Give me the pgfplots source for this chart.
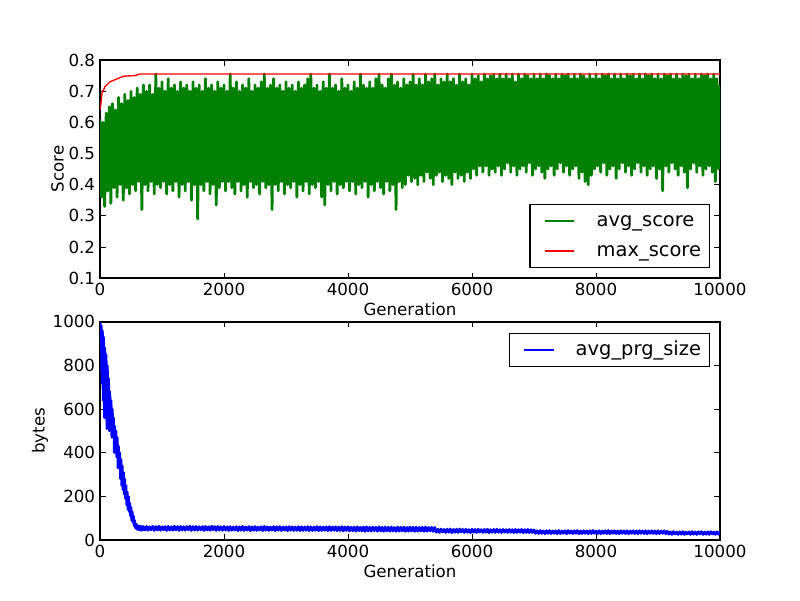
\documentclass[border=0pt]{standalone}
\usepackage{fontspec}
\setmainfont{DejaVu Sans}
\usepackage{pgfplots}
\pgfplotsset{compat=1.18}
\definecolor{mplgreen}{rgb}{0,0.5,0}
\pgfplotsset{
  mpl/.style={
    scale only axis, width=446.4pt, height=157.09pt,
    xmin=0, xmax=10000, xtick={0,2000,4000,6000,8000,10000},
    tick align=inside, major tick length=4pt, minor tick num=0,
    axis line style={line width=1pt},
    every tick/.style={black, line width=0.5pt},
    tick label style={font=\fontsize{12}{14}\selectfont},
    label style={font=\fontsize{12}{14}\selectfont},
    ylabel shift=-3.5pt, xlabel shift=-1.5pt,
    /pgf/number format/assume math mode=true,
    /pgf/number format/set thousands separator={},
    scaled ticks=false,
    legend cell align=left,
    legend image code/.code={\path (0pt,0pt) (40pt,0pt); \draw[##1, line width=1pt] (4pt,0pt) -- (25pt,0pt);},
    legend style={font=\fontsize{14}{17}\selectfont, draw=black, line width=1pt,
      inner xsep=6pt, inner ysep=5pt, column sep=0pt, row sep=8pt,
      nodes={inner sep=0pt, text height=10.5pt, text depth=3pt}},
  }
}
\begin{document}
\begin{tikzpicture}
\path[use as bounding box] (0pt,0pt) rectangle (576pt,432pt);
\begin{axis}[mpl, at={(72pt,231.71pt)}, anchor=south west,
  ymin=0.1, ymax=0.8, ytick={0.1,0.2,0.3,0.4,0.5,0.6,0.7,0.8},
  yticklabel style={/pgf/number format/.cd, fixed, fixed zerofill, precision=1},
  xlabel={Generation}, ylabel={Score},
  legend style={at={(0.9839,0.0467)}, anchor=south east}]
\addplot[mplgreen, line width=2pt, line join=round] coordinates {
(0,0.61)(25,0.36)(50,0.60)(75,0.33)(100,0.63)(125,0.38)(150,0.65)(175,0.34)
(200,0.66)(225,0.39)(250,0.64)(275,0.36)(300,0.68)(325,0.40)(350,0.66)(375,0.35)
(400,0.69)(425,0.39)(450,0.67)(475,0.37)(500,0.70)(525,0.40)(550,0.68)(575,0.38)
(600,0.71)(625,0.41)(650,0.69)(675,0.32)(700,0.72)(725,0.40)(750,0.70)(775,0.38)
(800,0.72)(825,0.41)(850,0.69)(875,0.37)(900,0.755)(925,0.40)(950,0.71)(975,0.39)
(1000,0.73)(1025,0.41)(1050,0.70)(1075,0.37)(1100,0.74)(1125,0.40)(1150,0.71)(1175,0.38)
(1200,0.72)(1225,0.41)(1250,0.70)(1275,0.36)(1300,0.73)(1325,0.40)(1350,0.71)(1375,0.38)
(1400,0.72)(1425,0.41)(1450,0.70)(1475,0.35)(1500,0.73)(1525,0.40)(1550,0.71)(1575,0.29)
(1600,0.72)(1625,0.40)(1650,0.70)(1675,0.38)(1700,0.74)(1725,0.41)(1750,0.71)(1775,0.37)
(1800,0.72)(1825,0.40)(1850,0.70)(1875,0.335)(1900,0.73)(1925,0.39)(1950,0.71)(1975,0.41)
(2000,0.72)(2025,0.38)(2050,0.70)(2075,0.41)(2100,0.755)(2125,0.39)(2150,0.71)(2175,0.37)
(2200,0.73)(2225,0.41)(2250,0.70)(2275,0.38)(2300,0.72)(2325,0.40)(2350,0.71)(2375,0.36)
(2400,0.74)(2425,0.41)(2450,0.70)(2475,0.39)(2500,0.72)(2525,0.40)(2550,0.71)(2575,0.37)
(2600,0.73)(2625,0.41)(2650,0.755)(2675,0.39)(2700,0.71)(2725,0.40)(2750,0.72)(2775,0.32)
(2800,0.74)(2825,0.40)(2850,0.71)(2875,0.38)(2900,0.72)(2925,0.41)(2950,0.70)(2975,0.37)
(3000,0.73)(3025,0.40)(3050,0.71)(3075,0.39)(3100,0.72)(3125,0.41)(3150,0.70)(3175,0.36)
(3200,0.73)(3225,0.40)(3250,0.71)(3275,0.38)(3300,0.72)(3325,0.41)(3350,0.74)(3375,0.37)
(3400,0.755)(3425,0.40)(3450,0.71)(3475,0.39)(3500,0.72)(3525,0.41)(3550,0.70)(3575,0.36)
(3600,0.73)(3625,0.335)(3650,0.71)(3675,0.40)(3700,0.755)(3725,0.38)(3750,0.71)(3775,0.41)
(3800,0.72)(3825,0.37)(3850,0.70)(3875,0.40)(3900,0.74)(3925,0.39)(3950,0.71)(3975,0.41)
(4000,0.72)(4025,0.38)(4050,0.70)(4075,0.41)(4100,0.73)(4125,0.37)(4150,0.71)(4175,0.40)
(4200,0.755)(4225,0.39)(4250,0.72)(4275,0.41)(4300,0.71)(4325,0.36)(4350,0.73)(4375,0.40)
(4400,0.71)(4425,0.38)(4450,0.74)(4475,0.41)(4500,0.755)(4525,0.39)(4550,0.72)(4575,0.37)
(4600,0.71)(4625,0.41)(4650,0.74)(4675,0.38)(4700,0.755)(4725,0.40)(4750,0.72)(4775,0.32)
(4800,0.73)(4825,0.41)(4850,0.71)(4875,0.39)(4900,0.74)(4925,0.40)(4950,0.72)(4975,0.43)
(5000,0.73)(5025,0.41)(5050,0.755)(5075,0.42)(5100,0.72)(5125,0.40)(5150,0.74)(5175,0.43)
(5200,0.72)(5225,0.41)(5250,0.755)(5275,0.44)(5300,0.73)(5325,0.42)(5350,0.74)(5375,0.40)
(5400,0.755)(5425,0.43)(5450,0.72)(5475,0.44)(5500,0.74)(5525,0.41)(5550,0.73)(5575,0.43)
(5600,0.755)(5625,0.42)(5650,0.73)(5675,0.40)(5700,0.74)(5725,0.44)(5750,0.72)(5775,0.42)
(5800,0.755)(5825,0.43)(5850,0.73)(5875,0.41)(5900,0.74)(5925,0.44)(5950,0.72)(5975,0.42)
(6000,0.755)(6025,0.45)(6050,0.74)(6075,0.43)(6100,0.75)(6125,0.46)(6150,0.73)(6175,0.44)
(6200,0.755)(6225,0.46)(6250,0.74)(6275,0.43)(6300,0.75)(6325,0.45)(6350,0.755)(6375,0.44)
(6400,0.74)(6425,0.46)(6450,0.755)(6475,0.43)(6500,0.74)(6525,0.45)(6550,0.755)(6575,0.47)
(6600,0.74)(6625,0.44)(6650,0.755)(6675,0.46)(6700,0.73)(6725,0.43)(6750,0.755)(6775,0.45)
(6800,0.74)(6825,0.46)(6850,0.755)(6875,0.44)(6900,0.75)(6925,0.47)(6950,0.74)(6975,0.43)
(7000,0.755)(7025,0.45)(7050,0.74)(7075,0.46)(7100,0.755)(7125,0.44)(7150,0.74)(7175,0.42)
(7200,0.755)(7225,0.45)(7250,0.75)(7275,0.46)(7300,0.74)(7325,0.43)(7350,0.755)(7375,0.45)
(7400,0.74)(7425,0.47)(7450,0.755)(7475,0.44)(7500,0.75)(7525,0.46)(7550,0.755)(7575,0.43)
(7600,0.74)(7625,0.45)(7650,0.755)(7675,0.46)(7700,0.74)(7725,0.42)(7750,0.755)(7775,0.44)
(7800,0.75)(7825,0.41)(7850,0.74)(7875,0.40)(7900,0.755)(7925,0.43)(7950,0.74)(7975,0.45)
(8000,0.755)(8025,0.46)(8050,0.74)(8075,0.44)(8100,0.755)(8125,0.47)(8150,0.75)(8175,0.43)
(8200,0.755)(8225,0.45)(8250,0.74)(8275,0.46)(8300,0.755)(8325,0.42)(8350,0.74)(8375,0.45)
(8400,0.755)(8425,0.47)(8450,0.74)(8475,0.44)(8500,0.755)(8525,0.46)(8550,0.75)(8575,0.43)
(8600,0.755)(8625,0.45)(8650,0.74)(8675,0.47)(8700,0.755)(8725,0.44)(8750,0.74)(8775,0.46)
(8800,0.755)(8825,0.43)(8850,0.75)(8875,0.45)(8900,0.755)(8925,0.46)(8950,0.74)(8975,0.42)
(9000,0.755)(9025,0.45)(9050,0.74)(9075,0.38)(9100,0.755)(9125,0.46)(9150,0.75)(9175,0.44)
(9200,0.755)(9225,0.47)(9250,0.74)(9275,0.45)(9300,0.755)(9325,0.43)(9350,0.74)(9375,0.46)
(9400,0.755)(9425,0.44)(9450,0.75)(9475,0.39)(9500,0.755)(9525,0.45)(9550,0.74)(9575,0.47)
(9600,0.755)(9625,0.44)(9650,0.74)(9675,0.46)(9700,0.755)(9725,0.43)(9750,0.75)(9775,0.45)
(9800,0.755)(9825,0.46)(9850,0.74)(9875,0.44)(9900,0.755)(9925,0.41)(9950,0.74)(9975,0.45)
(10000,0.72)};
\addlegendentry{avg\_score}
\addplot[red, line width=1pt] coordinates {
(0,0.64)(15,0.66)(30,0.69)(40,0.70)(60,0.705)(80,0.715)(110,0.72)(160,0.73)
(220,0.735)(296,0.741)(380,0.748)(560,0.75)(640,0.755)(10000,0.755)};
\addlegendentry{max\_score}
\end{axis}
\begin{axis}[mpl, at={(72pt,43.2pt)}, anchor=south west,
  ymin=0, ymax=1000, ytick={0,200,400,600,800,1000},
  xlabel={Generation}, ylabel={bytes},
  legend style={at={(0.9839,0.9488)}, anchor=north east}]
\addplot[blue, line width=1.8pt, line join=round] coordinates {
(0,1000)(10,900)(20,985)(30,720)(40,960)(50,640)(60,930)(70,560)
(80,880)(90,600)(100,850)(110,510)(120,800)(130,560)(140,740)(150,500)
(160,680)(170,520)(180,640)(190,470)(200,600)(210,480)(220,560)(230,400)
(240,520)(250,410)(260,500)(270,380)(280,470)(290,330)(300,430)(310,340)
(320,400)(330,280)(340,370)(350,250)(360,340)(370,230)(380,310)(390,210)
(400,280)(410,190)(420,250)(430,160)(440,220)(450,140)(460,200)(470,130)
(480,170)(490,110)(500,150)(510,90)(520,130)(530,80)(540,110)(550,65)
(560,90)(570,55)(580,75)(590,50)(600,68)(610,48)(620,65)(630,46)
(640,64)(650,45)(660,63)(670,44)(680,62)(690,46)
(700,62)(725,45)(750,63)(775,44)(800,61)(825,46)(850,63)(875,43)
(900,62)(925,45)(950,64)(975,44)(1000,61)(1025,46)(1050,62)(1075,43)
(1100,63)(1125,45)(1150,61)(1175,44)(1200,64)(1225,46)(1250,62)(1275,43)
(1300,63)(1325,45)(1350,61)(1375,44)(1400,62)(1425,46)(1450,64)(1475,43)
(1500,62)(1525,45)(1550,63)(1575,44)(1600,61)(1625,46)(1650,62)(1675,43)
(1700,63)(1725,45)(1750,61)(1775,44)(1800,64)(1825,46)(1850,62)(1875,43)
(1900,63)(1925,45)(1950,61)(1975,44)(2000,63)(2025,45)(2050,61)(2075,43)
(2100,62)(2125,44)(2150,60)(2175,45)(2200,62)(2225,42)(2250,61)(2275,44)
(2300,63)(2325,43)(2350,60)(2375,45)(2400,62)(2425,42)(2450,61)(2475,44)
(2500,62)(2525,43)(2550,60)(2575,45)(2600,61)(2625,42)(2650,63)(2675,44)
(2700,61)(2725,43)(2750,60)(2775,45)(2800,62)(2825,42)(2850,61)(2875,44)
(2900,62)(2925,43)(2950,60)(2975,45)(3000,61)(3025,42)(3050,62)(3075,44)
(3100,61)(3125,43)(3150,60)(3175,44)(3200,62)(3225,42)(3250,61)(3275,43)
(3300,60)(3325,44)(3350,62)(3375,42)(3400,61)(3425,43)(3450,60)(3475,44)
(3500,62)(3525,42)(3550,61)(3575,43)(3600,60)(3625,44)(3650,61)(3675,42)
(3700,62)(3725,43)(3750,60)(3775,44)(3800,61)(3825,42)(3850,60)(3875,43)
(3900,62)(3925,41)(3950,60)(3975,43)(4000,61)(4025,41)(4050,59)(4075,42)
(4100,60)(4125,40)(4150,61)(4175,42)(4200,59)(4225,41)(4250,60)(4275,39)
(4300,61)(4325,41)(4350,59)(4375,40)(4400,60)(4425,42)(4450,59)(4475,40)
(4500,61)(4525,41)(4550,59)(4575,39)(4600,60)(4625,41)(4650,59)(4675,40)
(4700,60)(4725,41)(4750,58)(4775,39)(4800,60)(4825,40)(4850,59)(4875,41)
(4900,60)(4925,39)(4950,58)(4975,40)(5000,60)(5025,41)(5050,59)(5075,39)
(5100,60)(5125,40)(5150,58)(5175,41)(5200,59)(5225,39)(5250,60)(5275,40)
(5300,58)(5325,41)(5350,59)(5375,39)(5400,58)
(5425,35)(5450,50)(5475,34)(5500,51)(5525,36)(5550,49)(5575,34)(5600,50)
(5625,35)(5650,51)(5675,33)(5700,49)(5725,35)(5750,50)(5775,34)(5800,51)
(5825,36)(5850,49)(5875,34)(5900,50)(5925,35)(5950,48)(5975,33)(6000,50)
(6025,35)(6050,49)(6075,34)(6100,50)(6125,36)(6150,48)(6175,34)(6200,49)
(6225,35)(6250,50)(6275,33)(6300,48)(6325,35)(6350,49)(6375,34)(6400,50)
(6425,35)(6450,48)(6475,33)(6500,49)(6525,35)(6550,48)(6575,34)(6600,49)
(6625,35)(6650,48)(6675,33)(6700,49)(6725,34)(6750,48)(6775,35)(6800,49)
(6825,33)(6850,48)(6875,34)(6900,49)(6925,33)(6950,48)(6975,34)(7000,47)
(7025,30)(7050,43)(7075,29)(7100,44)(7125,30)(7150,42)(7175,28)(7200,43)
(7225,30)(7250,44)(7275,29)(7300,42)(7325,30)(7350,43)(7375,28)(7400,44)
(7425,29)(7450,42)(7475,30)(7500,43)(7525,28)(7550,44)(7575,30)(7600,42)
(7625,29)(7650,43)(7675,30)(7700,44)(7725,28)(7750,42)(7775,29)(7800,43)
(7825,30)(7850,42)(7875,28)(7900,43)(7925,29)(7950,44)(7975,30)(8000,42)
(8025,29)(8050,43)(8075,28)(8100,42)(8125,30)(8150,43)(8175,29)(8200,44)
(8225,28)(8250,42)(8275,30)(8300,43)(8325,29)(8350,42)(8375,28)(8400,43)
(8425,30)(8450,42)(8475,29)(8500,43)(8525,28)(8550,42)(8575,30)(8600,43)
(8625,29)(8650,42)(8675,28)(8700,43)(8725,30)(8750,42)(8775,29)(8800,43)
(8825,28)(8850,42)(8875,30)(8900,43)(8925,29)(8950,42)(8975,28)(9000,43)
(9025,29)(9050,42)(9075,30)(9100,43)(9125,28)(9150,41)
(9175,26)(9200,38)(9225,25)(9250,39)(9275,27)(9300,37)(9325,25)(9350,38)
(9375,26)(9400,39)(9425,25)(9450,37)(9475,27)(9500,38)(9525,25)(9550,39)
(9575,26)(9600,37)(9625,25)(9650,38)(9675,27)(9700,39)(9725,25)(9750,37)
(9775,26)(9800,38)(9825,25)(9850,39)(9875,27)(9900,37)(9925,25)(9950,38)
(9975,26)(10000,37)};
\addlegendentry{avg\_prg\_size}
\end{axis}
\end{tikzpicture}
\end{document}
